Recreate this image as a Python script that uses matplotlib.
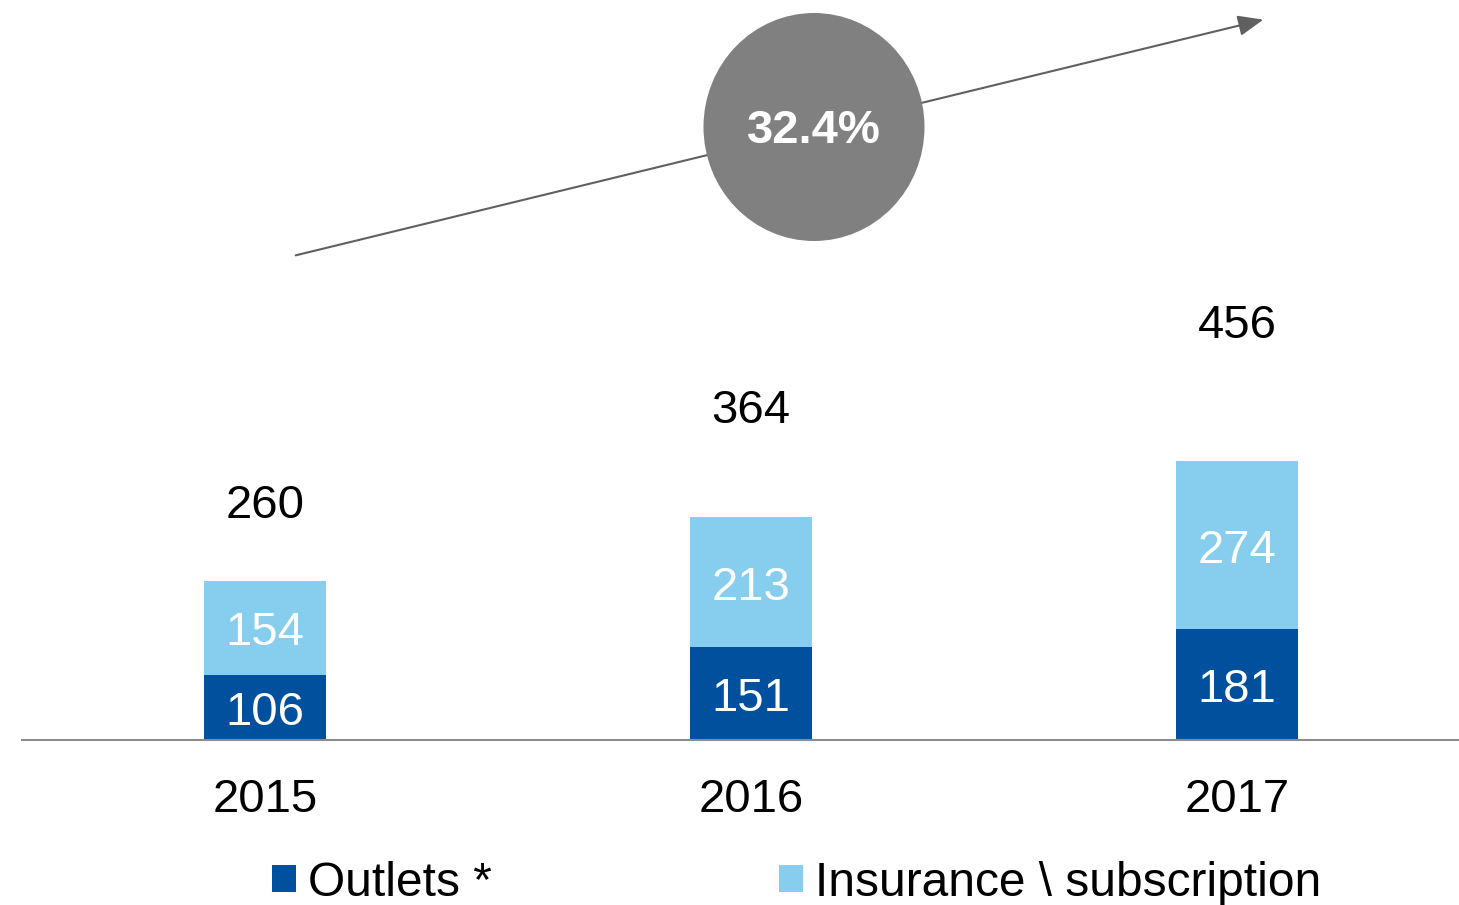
import matplotlib
matplotlib.use("Agg")
import matplotlib.pyplot as plt
from matplotlib.patches import Patch, Ellipse, FancyArrowPatch
import numpy as np

years = ["2015", "2016", "2017"]
outlets = [106, 151, 181]
insurance = [154, 213, 274]
totals = [260, 364, 456]
cagr_label = "32.4%"
series_names = ["Outlets *", "Insurance \\ subscription"]

dark = "#00509E"
light = "#87CEEE"

plt.rcParams['font.family'] = ['Liberation Sans', 'DejaVu Sans']

W, H = 1459, 905
fig = plt.figure(figsize=(W/100, H/100), dpi=100)
ax = fig.add_axes([22/W, 165/H, 1458/W, 740/H])

x = np.arange(len(years))
bw = 0.25
ax.bar(x, outlets, bw, color=dark, zorder=2)
ax.bar(x, insurance, bw, bottom=outlets, color=light, zorder=2)

def lab(xv, yv, s, color):
    ax.annotate(s, (xv, yv), xytext=(0, -4), textcoords='offset points',
                ha='center', va='center', color=color, fontsize=34)

for i in range(len(years)):
    lab(x[i], outlets[i]/2, str(outlets[i]), 'white')
    lab(x[i], outlets[i] + insurance[i]/2, str(insurance[i]), 'white')
    lab(x[i], totals[i]*1.5, str(totals[i]), 'black')

ax.set_xlim(-0.5, 2.5)
ax.set_ylim(0, 740/0.613)
ax.set_xticks(x)
ax.set_xticklabels(years, fontsize=34)
ax.tick_params(axis='x', length=0, pad=27)
ax.set_yticks([])
for s in ['top', 'right', 'left']:
    ax.spines[s].set_visible(False)
ax.spines['bottom'].set_color('#8c8c8c')
ax.spines['bottom'].set_linewidth(1.5)

# growth arrow and CAGR circle
arrow = FancyArrowPatch((293/W, 1-256/H), (1266/W, 1-19/H),
                        transform=fig.transFigure, arrowstyle='-|>,head_length=1.1,head_width=0.45',
                        mutation_scale=14, color='#606060', linewidth=1.5, zorder=3)
fig.add_artist(arrow)
circ = Ellipse((814/W, 1-127/H), 221/W, 228/H, transform=fig.transFigure,
               facecolor='#808080', edgecolor='none', zorder=4)
fig.add_artist(circ)
fig.text(814/W, 1-131/H, cagr_label, ha='center', va='center', color='white',
         fontsize=34, fontweight='bold', zorder=5)

handles = [Patch(facecolor=dark, edgecolor='none'), Patch(facecolor=light, edgecolor='none')]
leg = fig.legend(handles, series_names, loc='center left', bbox_to_anchor=(272/W, 1-883/H),
                 ncol=2, frameon=False, fontsize=34.5, handlelength=0.5, handleheight=0.5,
                 handletextpad=0.25, columnspacing=6.0, borderaxespad=0, borderpad=0)

fig.savefig("out.png", dpi=100)
